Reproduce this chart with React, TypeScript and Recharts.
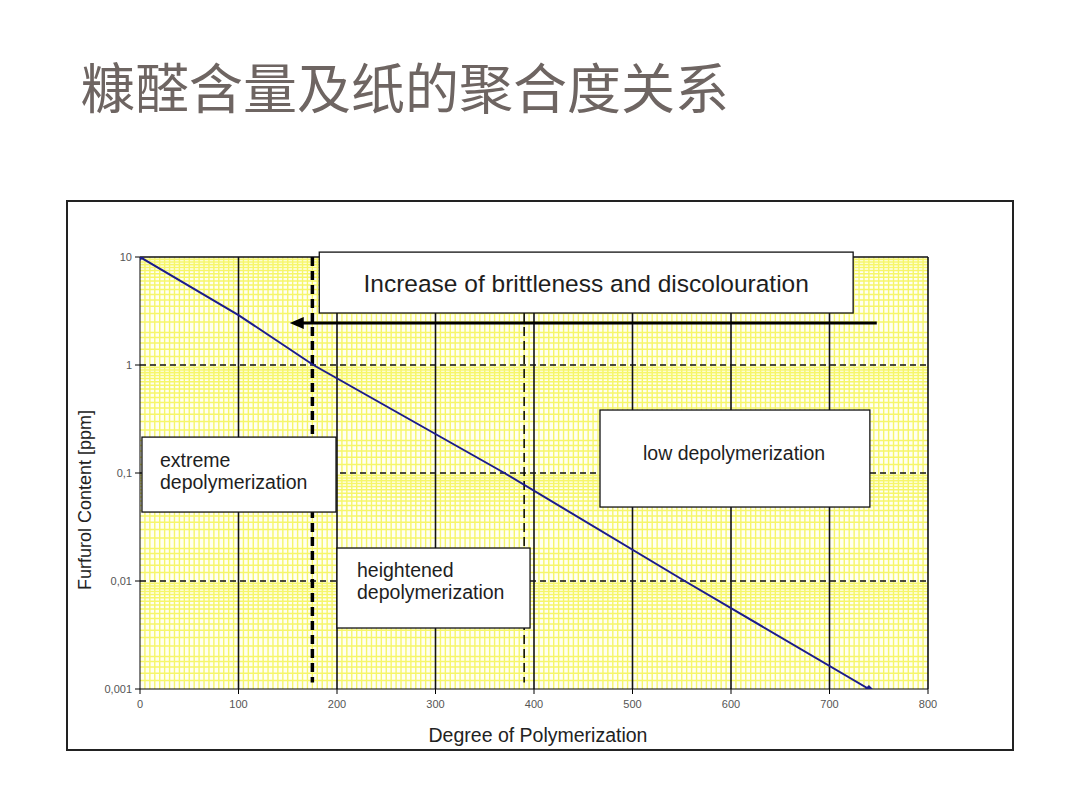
import React from 'react';
import {
  ComposedChart,
  Line,
  XAxis,
  YAxis,
  ReferenceLine,
  ReferenceArea,
} from 'recharts';

document.body.style.margin = '0';

// ── data ──
const dpValues = [0, 100, 176, 370, 553, 740];
const furfurolValues = [10, 2.9, 1, 0.1, 0.01, 0.001];
const xTicks = [0, 100, 200, 300, 400, 500, 600, 700, 800];
const yTicks = [0.001, 0.01, 0.1, 1, 10];
const decades = [0.001, 0.01, 0.1, 1];
const minorFactors = [1.2, 1.4, 1.6, 1.8, 2, 2.5, 3, 3.5, 4, 4.5, 5, 5.5, 6, 6.5, 7, 7.5, 8, 8.5, 9, 9.5];
const xMinorStep = 5;
const severeDP = 175;
const heightenedDP = 390;

const data = dpValues.map((dp, i) => ({ dp, fal: furfurolValues[i] }));

const xMinor: number[] = [];
for (let v = xMinorStep; v < 800; v += xMinorStep) if (v % 100 !== 0) xMinor.push(v);
const yMinor: number[] = [];
decades.forEach((d) => minorFactors.forEach((k) => yMinor.push(+(k * d).toPrecision(3))));

// annotation boxes: dp from/to, ppm top/bottom
const boxes = [
  { x: [182, 724], y: [11.1, 3.03], lines: ['Increase of brittleness and discolouration'], dx: 0, dy: 31, size: 24.5, center: true },
  { x: [2, 199], y: [0.215, 0.0435], lines: ['extreme', 'depolymerization'], dx: 18, dy: 23, size: 19.5, center: false },
  { x: [200, 396], y: [0.0202, 0.00367], lines: ['heightened', 'depolymerization'], dx: 20, dy: 22, size: 19.5, center: false },
  { x: [467, 741], y: [0.383, 0.0484], lines: ['low depolymerization'], dx: 43, dy: 43, size: 19.5, center: false },
];

const FONT = '"Liberation Sans", Arial, sans-serif';
const GRID_YELLOW = '#f6f66a';

const fmtY = (v: number) => String(v).replace('.', ',');

const Diamond = (props: any) => {
  const { cx, cy, index } = props;
  if (index !== 0 && index !== data.length - 1) return <g key={index} />;
  return (
    <path
      key={index}
      d={`M${cx},${cy - 4} L${cx + 4},${cy} L${cx},${cy + 4} L${cx - 4},${cy} Z`}
      fill="#1c1c8c"
    />
  );
};

const makeBox = (b: (typeof boxes)[number]) => (props: any) => {
  const { x1, y1, x2, y2 } = props;
  const left = Math.min(x1, x2);
  const top = Math.min(y1, y2);
  const w = Math.abs(x2 - x1);
  const h = Math.abs(y2 - y1);
  const tx = b.center ? left + w / 2 : left + b.dx;
  return (
    <g>
      <rect x={left} y={top} width={w} height={h} fill="#fff" stroke="#111" strokeWidth={1.3} />
      <text
        x={tx}
        y={top + b.dy}
        fontFamily={FONT}
        fontSize={b.size}
        fill="#1e1e1e"
        textAnchor={b.center ? 'middle' : 'start'}
      >
        {b.lines.map((l, i) => (
          <tspan key={i} x={tx} dy={i === 0 ? '0.35em' : 22}>
            {l}
          </tspan>
        ))}
      </text>
    </g>
  );
};

const Arrow = (props: any) => {
  const { x1, y1, x2, y2 } = props;
  const tip = Math.min(x1, x2);
  const tail = Math.max(x1, x2);
  return (
    <g>
      <line x1={tail} y1={y1} x2={tip + 10} y2={y2} stroke="#000" strokeWidth={3} />
      <polygon points={`${tip},${y1} ${tip + 14},${y1 - 6} ${tip + 14},${y1 + 6}`} fill="#000" />
    </g>
  );
};

export default function App() {
  return (
    <div style={{ position: 'relative', width: 1080, height: 810, background: '#fff', overflow: 'hidden' }}>
      <div
        style={{
          position: 'absolute',
          left: 81,
          top: 58,
          fontFamily: '"Noto Sans CJK SC", sans-serif',
          fontSize: 54,
          lineHeight: '56px',
          color: '#6e6562',
          whiteSpace: 'nowrap',
        }}
      >
        糠醛含量及纸的聚合度关系
      </div>
      <div
        style={{
          position: 'absolute',
          left: 66,
          top: 200,
          width: 944,
          height: 547,
          border: '2px solid #222',
        }}
      />
      <div style={{ position: 'absolute', left: 0, top: 0 }}>
        <ComposedChart width={1080} height={810} data={data} margin={{ top: 257, right: 152, bottom: 91, left: 80 }}>
          <XAxis
            dataKey="dp"
            type="number"
            domain={[0, 800]}
            ticks={xTicks}
            tickSize={5}
            tickMargin={6}
            height={30}
            stroke="#000"
            tick={{ fill: '#555', fontSize: 11, fontFamily: FONT }}
            allowDataOverflow
          />
          <YAxis
            dataKey="fal"
            type="number"
            scale="log"
            domain={[0.001, 10]}
            ticks={yTicks}
            tickFormatter={fmtY}
            tickSize={5}
            tickMargin={3}
            width={60}
            stroke="#000"
            tick={{ fill: '#555', fontSize: 11, fontFamily: FONT }}
            allowDataOverflow
          />
          <ReferenceArea x1={0} x2={800} y1={0.001} y2={10} fill="#fffff2" fillOpacity={1} stroke="none" />
          {xMinor.map((v) => (
            <ReferenceLine key={'vx' + v} x={v} stroke={GRID_YELLOW} strokeWidth={1.4} />
          ))}
          {yMinor.map((v) => (
            <ReferenceLine key={'hy' + v} y={v} stroke={GRID_YELLOW} strokeWidth={1.6} />
          ))}
          {xTicks.slice(1).map((v) => (
            <ReferenceLine key={'mx' + v} x={v} stroke="#111" strokeWidth={1.6} />
          ))}
          {[0.01, 0.1, 1].map((v) => (
            <ReferenceLine key={'my' + v} y={v} stroke="#111" strokeWidth={1.6} strokeDasharray="6 4" />
          ))}
          <ReferenceLine y={10} stroke="#111" strokeWidth={1.6} />
          <ReferenceLine
            segment={[{ x: severeDP, y: 10 }, { x: severeDP, y: 0.00115 }]}
            stroke="#000"
            strokeWidth={3.5}
            strokeDasharray="9 5"
          />
          <ReferenceLine
            segment={[{ x: heightenedDP, y: 10 }, { x: heightenedDP, y: 0.00115 }]}
            stroke="#000"
            strokeWidth={1.5}
            strokeDasharray="9 5"
          />
          {boxes.map((b, i) => (
            <ReferenceLine
              key={'box' + i}
              segment={[{ x: b.x[0], y: b.y[0] }, { x: b.x[1], y: b.y[1] }]}
              shape={makeBox(b)}
              ifOverflow="visible"
            />
          ))}
          <ReferenceLine
            segment={[{ x: 748, y: 2.45 }, { x: 152, y: 2.45 }]}
            shape={Arrow}
            ifOverflow="visible"
          />
          <Line
            dataKey="fal"
            stroke="#1c1c8c"
            strokeWidth={2}
            dot={Diamond}
            activeDot={false}
            isAnimationActive={false}
          />
        </ComposedChart>
      </div>
      <div
        style={{
          position: 'absolute',
          left: 538,
          top: 735,
          transform: 'translate(-50%, -50%)',
          fontFamily: FONT,
          fontSize: 19.5,
          color: '#222',
          whiteSpace: 'nowrap',
        }}
      >
        Degree of Polymerization
      </div>
      <div
        style={{
          position: 'absolute',
          left: 85,
          top: 500,
          transform: 'translate(-50%, -50%) rotate(-90deg)',
          fontFamily: FONT,
          fontSize: 18,
          color: '#222',
          whiteSpace: 'nowrap',
        }}
      >
        Furfurol Content [ppm]
      </div>
    </div>
  );
}
